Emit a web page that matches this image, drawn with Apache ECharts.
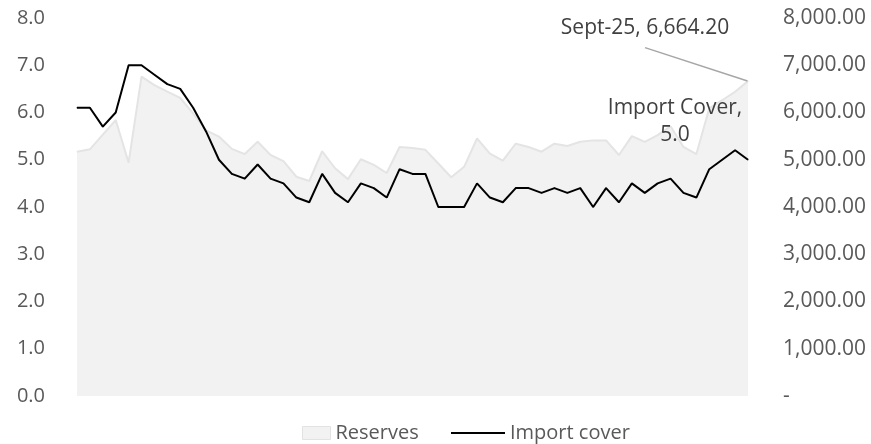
<!DOCTYPE html>
<html>
<head>
<meta charset="utf-8">
<script src="https://cdn.jsdelivr.net/npm/echarts@6/dist/echarts.min.js"></script>
<style>
  html, body { margin: 0; padding: 0; background: #ffffff; }
  #chart { width: 871px; height: 444px; }
</style>
</head>
<body>
<div id="chart"></div>
<script>
// Monthly reserves (millions) and import cover (months)
const months = [
  'May-21','Jun-21','Jul-21','Aug-21','Sept-21','Oct-21','Nov-21','Dec-21',
  'Jan-22','Feb-22','Mar-22','Apr-22','May-22','Jun-22','Jul-22','Aug-22','Sept-22','Oct-22','Nov-22','Dec-22',
  'Jan-23','Feb-23','Mar-23','Apr-23','May-23','Jun-23','Jul-23','Aug-23','Sept-23','Oct-23','Nov-23','Dec-23',
  'Jan-24','Feb-24','Mar-24','Apr-24','May-24','Jun-24','Jul-24','Aug-24','Sept-24','Oct-24','Nov-24','Dec-24',
  'Jan-25','Feb-25','Mar-25','Apr-25','May-25','Jun-25','Jul-25','Aug-25','Sept-25'
];

const reserves = [
  5170, 5220, 5530, 5840, 4940, 6760, 6580, 6440, 6310, 5980,
  5620, 5490, 5230, 5120, 5380, 5100, 4970, 4640, 4550, 5180,
  4820, 4590, 5010, 4890, 4720, 5270, 5250, 5210, 4920, 4630,
  4850, 5450, 5130, 4980, 5340, 5270, 5170, 5340, 5290, 5380,
  5410, 5410, 5100, 5500, 5380, 5520, 5710, 5270, 5120, 6090,
  6260, 6440, 6664.20
];

const importCover = [
  6.1, 6.1, 5.7, 6.0, 7.0, 7.0, 6.8, 6.6, 6.5, 6.1,
  5.6, 5.0, 4.7, 4.6, 4.9, 4.6, 4.5, 4.2, 4.1, 4.7,
  4.3, 4.1, 4.5, 4.4, 4.2, 4.8, 4.7, 4.7, 4.0, 4.0,
  4.0, 4.5, 4.2, 4.1, 4.4, 4.4, 4.3, 4.4, 4.3, 4.4,
  4.0, 4.4, 4.1, 4.5, 4.3, 4.5, 4.6, 4.3, 4.2, 4.8,
  5.0, 5.2, 5.0
];

const FONT = '"Open Sans", "Liberation Sans", sans-serif';
const AXIS_COLOR = '#595959';
const LABEL_COLOR = '#404040';

function fmt2(v) {
  const parts = Number(v).toFixed(2).split('.');
  return parts[0].replace(/\B(?=(\d{3})+(?!\d))/g, ',') + '.' + parts[1];
}

const last = months.length - 1;

// Only the final month carries a data label
const reservesData = reserves.map((v, i) => i === last ? { value: v, label: { show: true } } : v);
const coverData = importCover.map((v, i) => i === last ? { value: v, label: { show: true } } : v);

const chart = echarts.init(document.getElementById('chart'), null, { renderer: 'canvas' });

chart.setOption({
  animation: false,
  backgroundColor: '#ffffff',
  grid: { left: 77, right: 123, top: 18, bottom: 48, containLabel: false },
  xAxis: {
    type: 'category',
    data: months,
    boundaryGap: false,
    axisLine: { show: false },
    axisTick: { show: false },
    axisLabel: { show: false },
    splitLine: { show: false }
  },
  yAxis: [
    {
      type: 'value', min: 0, max: 8, interval: 1,
      axisLine: { show: false }, axisTick: { show: false }, splitLine: { show: false },
      axisLabel: {
        margin: 32, color: AXIS_COLOR, fontFamily: FONT, fontSize: 20,
        formatter: v => v.toFixed(1)
      }
    },
    {
      type: 'value', min: 0, max: 8000, interval: 1000, position: 'right',
      axisLine: { show: false }, axisTick: { show: false }, splitLine: { show: false },
      axisLabel: {
        margin: 35, color: AXIS_COLOR, fontFamily: FONT, fontSize: 21,
        formatter: v => v === 0 ? '-' : fmt2(v)
      }
    }
  ],
  legend: [
    {
      data: ['Reserves'], left: 297, top: 418, itemWidth: 28, itemHeight: 13,
      icon: 'rect', selectedMode: false,
      itemStyle: { color: '#f2f2f2', borderColor: '#e2e2e2', borderWidth: 1 },
      textStyle: { fontFamily: FONT, fontSize: 20, color: AXIS_COLOR }
    },
    {
      data: ['Import cover'], left: 445, top: 418, itemWidth: 54, itemHeight: 2,
      selectedMode: false,
      lineStyle: { color: '#000000', width: 2 },
      itemStyle: { color: '#000000' },
      textStyle: { fontFamily: FONT, fontSize: 20, color: AXIS_COLOR }
    }
  ],
  series: [
    {
      name: 'Reserves',
      type: 'line',
      yAxisIndex: 1,
      data: reservesData,
      symbol: 'circle',
      symbolSize: 1,
      showSymbol: true,
      itemStyle: { color: '#e4e4e4' },
      lineStyle: { color: '#e4e4e4', width: 2 },
      areaStyle: { color: '#f2f2f2', opacity: 1 },
      emphasis: { disabled: true },
      silent: true,
      z: 1,
      label: {
        show: false,
        position: 'top',
        align: 'center',
        fontFamily: FONT,
        fontSize: 21,
        lineHeight: 27,
        color: LABEL_COLOR,
        padding: [0, 120, 6, 120],
        backgroundColor: 'rgba(255,255,255,0)',
        formatter: p => p.name + ', ' + fmt2(p.value)
      },
      labelLine: { show: true, lineStyle: { color: '#a6a6a6', width: 1.5 } },
      labelLayout: { dx: -103, dy: -28 }
    },
    {
      name: 'Import cover',
      type: 'line',
      yAxisIndex: 0,
      data: coverData,
      symbol: 'circle',
      symbolSize: 1,
      showSymbol: true,
      itemStyle: { color: '#000000' },
      lineStyle: { color: '#000000', width: 2 },
      emphasis: { disabled: true },
      silent: true,
      z: 3,
      label: {
        show: false,
        position: 'top',
        align: 'center',
        fontFamily: FONT,
        fontSize: 21,
        lineHeight: 27,
        color: LABEL_COLOR,
        formatter: p => 'Import Cover,\n' + Number(p.value).toFixed(1)
      },
      labelLayout: { dx: -73, dy: -6 }
    }
  ]
});
</script>
</body>
</html>
